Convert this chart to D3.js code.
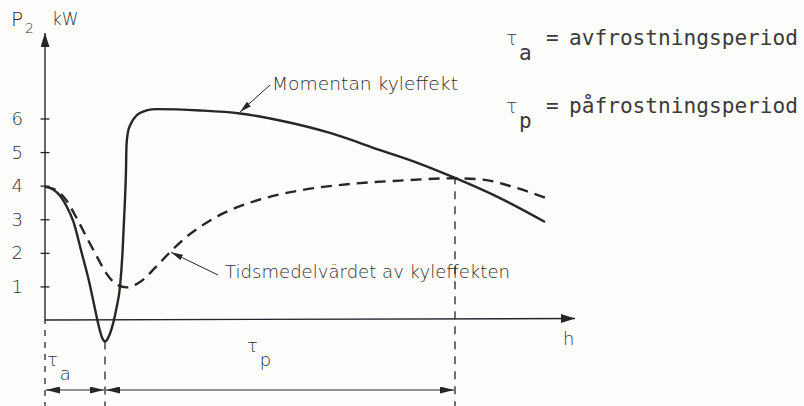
<!DOCTYPE html>
<html>
<head>
<meta charset="utf-8">
<script src="https://cdn.jsdelivr.net/npm/d3@7"></script>
<style>
  html, body { margin: 0; padding: 0; background: #fdfdfc; }
  svg { display: block; }
  text { fill: #2e2e2e; }
</style>
</head>
<body>
<svg id="chart" width="804" height="406"></svg>
<script>
// Cooling power over one defrost/frost cycle (time in arbitrary hour units)
const momentanT = [0, 0.14, 0.26, 0.43, 0.57, 0.73, 0.87, 1.0, 1.08, 1.14, 1.2, 1.26, 1.33, 1.43, 1.5, 1.55, 1.59, 1.62, 1.63, 1.66, 1.72, 1.83, 2.03, 2.23, 3.1, 3.9, 4.7, 5.7, 6.7, 7.5, 8.2, 9.1, 10.0];
const momentanP = [3.97, 3.9, 3.77, 3.39, 2.92, 2.02, 1.22, 0.33, -0.21, -0.52, -0.64, -0.54, -0.27, 0.36, 0.99, 2.0, 3.28, 4.47, 5.21, 5.6, 5.85, 6.09, 6.24, 6.28, 6.24, 6.15, 5.94, 5.57, 5.06, 4.65, 4.23, 3.63, 2.92];

const medelT = [0, 0.23, 0.43, 0.63, 0.83, 1.03, 1.23, 1.43, 1.63, 1.9, 2.2, 2.5, 2.8, 3.1, 3.5, 3.9, 4.4, 5.1, 6.1, 7.1, 8.2, 8.76, 9.3, 10.04];
const medelP = [3.97, 3.86, 3.56, 3.04, 2.47, 1.91, 1.38, 1.06, 0.97, 1.13, 1.55, 2.02, 2.44, 2.77, 3.13, 3.39, 3.63, 3.86, 4.05, 4.15, 4.22, 4.18, 3.99, 3.62];

const yTicks = [1, 2, 3, 4, 5, 6];
const tauAEnd = 1.2;   // end of defrost period
const tauPEnd = 8.2;   // end of frosting period (curves intersect)

const svg = d3.select("#chart");
const ink = "#262626";
const sans = "DejaVu Sans, sans-serif";
const mono = "DejaVu Sans Mono, monospace";

const x = d3.scaleLinear().domain([0, 10.6]).range([45, 575]);
const y = d3.scaleLinear().domain([0, 6]).range([320, 118.5]);

// Arrowhead markers
const defs = svg.append("defs");
function marker(id, w, h) {
  defs.append("marker")
    .attr("id", id)
    .attr("viewBox", `0 ${-h} ${w} ${2 * h}`)
    .attr("refX", w).attr("refY", 0)
    .attr("markerUnits", "userSpaceOnUse")
    .attr("markerWidth", w).attr("markerHeight", 2 * h)
    .attr("orient", "auto-start-reverse")
    .append("path")
    .attr("d", `M0,${-h}L${w},0L0,${h}Z`)
    .attr("fill", ink);
}
marker("axisHead", 14, 4.5);
marker("dimHead", 14, 3.5);
marker("leadHead", 12, 3);

// Axes
svg.append("line")
  .attr("x1", x(0)).attr("x2", x(0))
  .attr("y1", y(0)).attr("y2", 33)
  .attr("stroke", ink).attr("stroke-width", 1.4)
  .attr("marker-end", "url(#axisHead)");
svg.append("line")
  .attr("x1", x(0)).attr("x2", 575)
  .attr("y1", y(0)).attr("y2", y(0) - 1.5)
  .attr("stroke", ink).attr("stroke-width", 1.4)
  .attr("marker-end", "url(#axisHead)");

const yAxis = d3.axisLeft(y).tickValues(yTicks).tickSize(0).tickPadding(22)
  .tickFormat(d3.format("d"));
const gy = svg.append("g").attr("transform", `translate(${x(0)},0)`).call(yAxis);
gy.select(".domain").remove();
gy.selectAll(".tick text")
  .attr("font-family", sans)
  .attr("font-size", 18).attr("font-weight", 300)
  .attr("fill", "#333").attr("dy", "0.34em");
gy.selectAll(".tick").append("line")
  .attr("x1", -4.5).attr("x2", 4.5)
  .attr("stroke", ink).attr("stroke-width", 1.3);

// Axis titles
svg.append("text").attr("x", 11).attr("y", 26)
  .attr("font-family", sans).attr("font-size", 20).attr("font-weight", 300).text("P");
svg.append("text").attr("x", 25).attr("y", 33)
  .attr("font-family", sans).attr("font-size", 14).attr("font-weight", 300).text("2");
svg.append("text").attr("x", 52).attr("y", 25)
  .attr("font-family", sans).attr("font-size", 17).attr("font-weight", 300).text("kW");
svg.append("text").attr("x", 563).attr("y", 345)
  .attr("font-family", sans).attr("font-size", 18).attr("font-weight", 300).text("h");

// Curves
const line = d3.line().curve(d3.curveMonotoneX);
svg.append("path")
  .attr("d", line(momentanT.map((t, i) => [x(t), y(momentanP[i])])))
  .attr("fill", "none").attr("stroke", ink).attr("stroke-width", 2.4)
  .attr("stroke-linejoin", "round");
svg.append("path")
  .attr("d", line(medelT.map((t, i) => [x(t), y(medelP[i])])))
  .attr("fill", "none").attr("stroke", ink).attr("stroke-width", 2.4)
  .attr("stroke-dasharray", "11 7");

// Dashed period boundaries
const minP = d3.min(momentanP);
const guides = [
  { t: 0, top: y(0) },
  { t: tauAEnd, top: y(minP) },
  { t: tauPEnd, top: y(4.22) }
];
guides.forEach(g => {
  svg.append("line")
    .attr("x1", x(g.t)).attr("x2", x(g.t))
    .attr("y1", g.top).attr("y2", 406)
    .attr("stroke", ink).attr("stroke-width", 1.3)
    .attr("stroke-dasharray", g.t === 0 ? "6 6" : "8 7")
    .attr("stroke-dashoffset", g.t === tauAEnd ? 0 : 2);
});

// Period dimension arrows
const dimY = 390;
[[0, tauAEnd], [tauAEnd, tauPEnd]].forEach(([a, b]) => {
  svg.append("line")
    .attr("x1", x(a) + 1).attr("x2", x(b) - 1)
    .attr("y1", dimY).attr("y2", dimY)
    .attr("stroke", ink).attr("stroke-width", 1.2)
    .attr("marker-start", "url(#dimHead)")
    .attr("marker-end", "url(#dimHead)");
});

function tau(xp, yp, sub, size, subDx, subDy) {
  const t = svg.append("text").attr("x", xp).attr("y", yp)
    .attr("font-family", sans).attr("font-size", size).attr("font-weight", 300);
  t.append("tspan").text("τ");
  t.append("tspan").attr("dx", subDx).attr("dy", subDy).text(sub);
}
tau(47, 366, "a", 18, 2, 14);
tau(247, 352, "p", 18, 2, 14);

// Leader annotations
svg.append("line")
  .attr("x1", 270).attr("y1", 85).attr("x2", x(3.9)).attr("y2", y(6.15) - 1.5)
  .attr("stroke", ink).attr("stroke-width", 1)
  .attr("marker-end", "url(#leadHead)");
svg.append("text").attr("x", 272).attr("y", 90)
  .attr("font-family", sans).attr("font-size", 18).attr("font-weight", 300)
  .attr("textLength", 186).attr("lengthAdjust", "spacingAndGlyphs")
  .text("Momentan kyleffekt");

svg.append("line")
  .attr("x1", 218).attr("y1", 275).attr("x2", x(2.5) + 1).attr("y2", y(2.02))
  .attr("stroke", ink).attr("stroke-width", 1)
  .attr("marker-end", "url(#leadHead)");
svg.append("text").attr("x", 225).attr("y", 278)
  .attr("font-family", sans).attr("font-size", 18).attr("font-weight", 300)
  .attr("textLength", 285).attr("lengthAdjust", "spacingAndGlyphs")
  .text("Tidsmedelvärdet av kyleffekten");

// Legend for the period symbols
const legend = [
  { sub: "a", text: "avfrostningsperiod", base: 45 },
  { sub: "p", text: "påfrostningsperiod", base: 113 }
];
legend.forEach(d => {
  const t = svg.append("text").attr("x", 506).attr("y", d.base)
    .attr("font-family", sans).attr("font-size", 19).attr("font-weight", 300)
    .style("fill", "#3a3a3a");
  t.append("tspan").text("τ");
  t.append("tspan").attr("x", 519).attr("dy", 15)
    .attr("font-family", mono).attr("font-size", 21).text(d.sub);
  svg.append("text").attr("x", 546).attr("y", d.base)
    .attr("font-family", mono).attr("font-size", 21).style("fill", "#3a3a3a").text("=");
  svg.append("text").attr("x", 569).attr("y", d.base)
    .attr("font-family", mono).attr("font-size", 21).style("fill", "#3a3a3a")
    .attr("textLength", 229).attr("lengthAdjust", "spacingAndGlyphs")
    .text(d.text);
});
</script>
</body>
</html>
